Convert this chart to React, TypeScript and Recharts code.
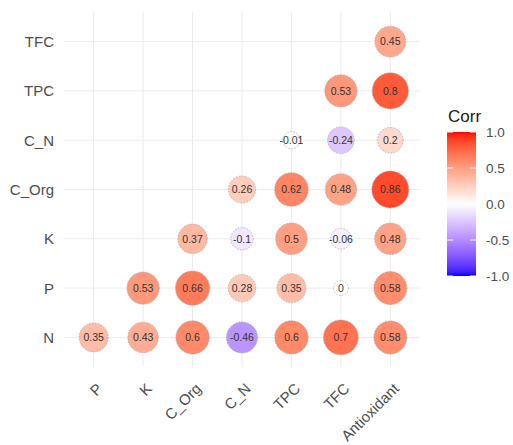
import React from 'react';
import { ScatterChart, Scatter, XAxis, YAxis, CartesianGrid, Customized } from 'recharts';

// Variable order along each axis
const xVars = ['P', 'K', 'C_Org', 'C_N', 'TPC', 'TFC', 'Antioxidant'];
const yVars = ['N', 'P', 'K', 'C_Org', 'C_N', 'TPC', 'TFC'];

// Lower-triangle correlations, one array per row (values run from the row's first column)
const rowN = [0.35, 0.43, 0.6, -0.46, 0.6, 0.7, 0.58];
const rowP = [0.53, 0.66, 0.28, 0.35, 0, 0.58];
const rowK = [0.37, -0.1, 0.5, -0.06, 0.48];
const rowCOrg = [0.26, 0.62, 0.48, 0.86];
const rowCN = [-0.01, -0.24, 0.2];
const rowTPC = [0.53, 0.8];
const rowTFC = [0.45];

const legendTicks = [1.0, 0.5, 0.0, -0.5, -1.0];

const rows = [rowN, rowP, rowK, rowCOrg, rowCN, rowTPC, rowTFC];

type Cell = { x: number; y: number; r: number };
const cells: Cell[] = [];
rows.forEach((vals, yi) => {
  vals.forEach((r, k) => {
    cells.push({ x: yi + k, y: yi, r });
  });
});

const maxAbs = Math.max(...cells.map((c) => Math.abs(c.r)));

// ---- colour helpers: blue -> white -> red, interpolated in CIELAB ----
type Lab = [number, number, number];
function srgbToLin(c: number) {
  c /= 255;
  return c <= 0.04045 ? c / 12.92 : Math.pow((c + 0.055) / 1.055, 2.4);
}
function linToSrgb(c: number) {
  const v = c <= 0.0031308 ? 12.92 * c : 1.055 * Math.pow(c, 1 / 2.4) - 0.055;
  return Math.max(0, Math.min(255, Math.round(v * 255)));
}
const Xn = 0.95047, Yn = 1.0, Zn = 1.08883;
function f(t: number) {
  return t > 0.008856 ? Math.cbrt(t) : 7.787 * t + 16 / 116;
}
function finv(t: number) {
  return t > 0.206893 ? t * t * t : (t - 16 / 116) / 7.787;
}
function rgbToLab(rgb: [number, number, number]): Lab {
  const [r, g, b] = rgb.map(srgbToLin);
  const X = 0.4124 * r + 0.3576 * g + 0.1805 * b;
  const Y = 0.2126 * r + 0.7152 * g + 0.0722 * b;
  const Z = 0.0193 * r + 0.1192 * g + 0.9505 * b;
  const fx = f(X / Xn), fy = f(Y / Yn), fz = f(Z / Zn);
  return [116 * fy - 16, 500 * (fx - fy), 200 * (fy - fz)];
}
function labToHex(lab: Lab) {
  const [L, a, bb] = lab;
  const fy = (L + 16) / 116;
  const fx = fy + a / 500;
  const fz = fy - bb / 200;
  const X = Xn * finv(fx), Y = Yn * finv(fy), Z = Zn * finv(fz);
  const r = 3.2406 * X - 1.5372 * Y - 0.4986 * Z;
  const g = -0.9689 * X + 1.8758 * Y + 0.0415 * Z;
  const b = 0.0557 * X - 0.204 * Y + 1.057 * Z;
  const h = (n: number) => linToSrgb(n).toString(16).padStart(2, '0');
  return '#' + h(r) + h(g) + h(b);
}
const LAB_LOW = rgbToLab([0, 0, 255]);
const LAB_MID = rgbToLab([255, 255, 255]);
const LAB_HIGH = rgbToLab([255, 0, 0]);
function corrColor(v: number) {
  const t = Math.max(-1, Math.min(1, v));
  const end = t >= 0 ? LAB_HIGH : LAB_LOW;
  const k = Math.abs(t);
  const lab: Lab = [
    LAB_MID[0] + (end[0] - LAB_MID[0]) * k,
    LAB_MID[1] + (end[1] - LAB_MID[1]) * k,
    LAB_MID[2] + (end[2] - LAB_MID[2]) * k,
  ];
  return labToHex(lab);
}

// Circle diameter: area-style size scale from |r|
function diameter(r: number) {
  const t = maxAbs > 0 ? Math.abs(r) / maxAbs : 0;
  return 3.7 * (4 + 6 * Math.sqrt(t));
}

const FONT = '"Liberation Sans", Arial, Helvetica, sans-serif';
const idx = [0, 1, 2, 3, 4, 5, 6];
const DOMAIN: [number, number] = [-0.6, 6.6];

const CorrDot = (props: any) => {
  const { cx, cy, payload } = props;
  if (cx == null || cy == null) return null;
  const d = diameter(payload.r);
  return (
    <g>
      <circle
        cx={cx}
        cy={cy}
        r={d / 2}
        fill={corrColor(payload.r)}
        stroke="#A8A8A8"
        strokeWidth={0.8}
        strokeDasharray="1.6 1.4"
      />
      <text
        x={cx}
        y={cy}
        dy="0.36em"
        textAnchor="middle"
        fontFamily={FONT}
        fontSize={10.5}
        fill="#333333"
      >
        {String(payload.r)}
      </text>
    </g>
  );
};

const XTick = (props: any) => {
  const { x, y, payload } = props;
  const px = x + 2;
  return (
    <text
      x={px}
      y={y}
      dy="0.72em"
      textAnchor="end"
      transform={`rotate(-45 ${px} ${y})`}
      fontFamily={FONT}
      fontSize={15}
      fill="#4D4D4D"
    >
      {xVars[payload.value]}
    </text>
  );
};

const YTick = (props: any) => {
  const { x, y, payload } = props;
  return (
    <text
      x={x}
      y={y}
      dy="0.36em"
      textAnchor="end"
      fontFamily={FONT}
      fontSize={15}
      fill="#4D4D4D"
    >
      {yVars[payload.value]}
    </text>
  );
};

// Colour bar legend
const BAR_X = 447;
const BAR_W = 29;
const BAR_TOP = 132;
const BAR_BOTTOM = 276;
const barY = (v: number) => BAR_TOP + ((1 - v) / 2) * (BAR_BOTTOM - BAR_TOP);

const ColorBar = () => {
  const stops = [];
  for (let i = 0; i <= 40; i++) {
    const v = 1 - (2 * i) / 40;
    stops.push(<stop key={i} offset={`${(i / 40) * 100}%`} stopColor={corrColor(v)} />);
  }
  return (
    <g>
      <defs>
        <linearGradient id="corrGrad" x1="0" y1="0" x2="0" y2="1">
          {stops}
        </linearGradient>
      </defs>
      <text x={BAR_X + 1} y={122} fontFamily={FONT} fontSize={17} fill="#1A1A1A">
        Corr
      </text>
      <rect x={BAR_X} y={BAR_TOP} width={BAR_W} height={BAR_BOTTOM - BAR_TOP} fill="url(#corrGrad)" />
      {legendTicks.map((v) => (
        <g key={v}>
          <line x1={BAR_X} x2={BAR_X + 6} y1={barY(v)} y2={barY(v)} stroke="#FFFFFF" strokeWidth={1} />
          <line x1={BAR_X + BAR_W - 6} x2={BAR_X + BAR_W} y1={barY(v)} y2={barY(v)} stroke="#FFFFFF" strokeWidth={1} />
          <text
            x={BAR_X + BAR_W + 10}
            y={barY(v)}
            dy="0.36em"
            fontFamily={FONT}
            fontSize={13.5}
            fill="#4D4D4D"
          >
            {v.toFixed(1)}
          </text>
        </g>
      ))}
    </g>
  );
};

// Grid lines only at the category positions (mapped through the plot offset and axis domain)
const frac = (i: number) => (i - DOMAIN[0]) / (DOMAIN[1] - DOMAIN[0]);
const vGrid = (p: any) => {
  const o = p.offset || {};
  return idx.map((i) => o.left + frac(i) * o.width);
};
const hGrid = (p: any) => {
  const o = p.offset || {};
  return idx.map((i) => o.top + (1 - frac(i)) * o.height);
};

export default function App() {
  return (
    <div style={{ position: 'absolute', left: 0, top: 0, width: 513, height: 445, background: '#FFFFFF' }}>
      <ScatterChart width={513} height={445} margin={{ top: 12, right: 93, bottom: 0, left: 0 }}>
        <CartesianGrid
          stroke="#EBEBEB"
          strokeWidth={1}
          verticalCoordinatesGenerator={vGrid}
          horizontalCoordinatesGenerator={hGrid}
        />
        <XAxis
          type="number"
          dataKey="x"
          domain={DOMAIN}
          ticks={idx}
          interval={0}
          height={78}
          axisLine={false}
          tickLine={false}
          tickSize={0}
          tickMargin={15}
          tick={<XTick />}
          allowDataOverflow
        />
        <YAxis
          type="number"
          dataKey="y"
          domain={DOMAIN}
          ticks={idx}
          interval={0}
          width={64}
          axisLine={false}
          tickLine={false}
          tickSize={0}
          tickMargin={10}
          tick={<YTick />}
          allowDataOverflow
        />
        <Scatter data={cells} shape={<CorrDot />} isAnimationActive={false} />
        <Customized component={<ColorBar />} />
      </ScatterChart>
    </div>
  );
}
